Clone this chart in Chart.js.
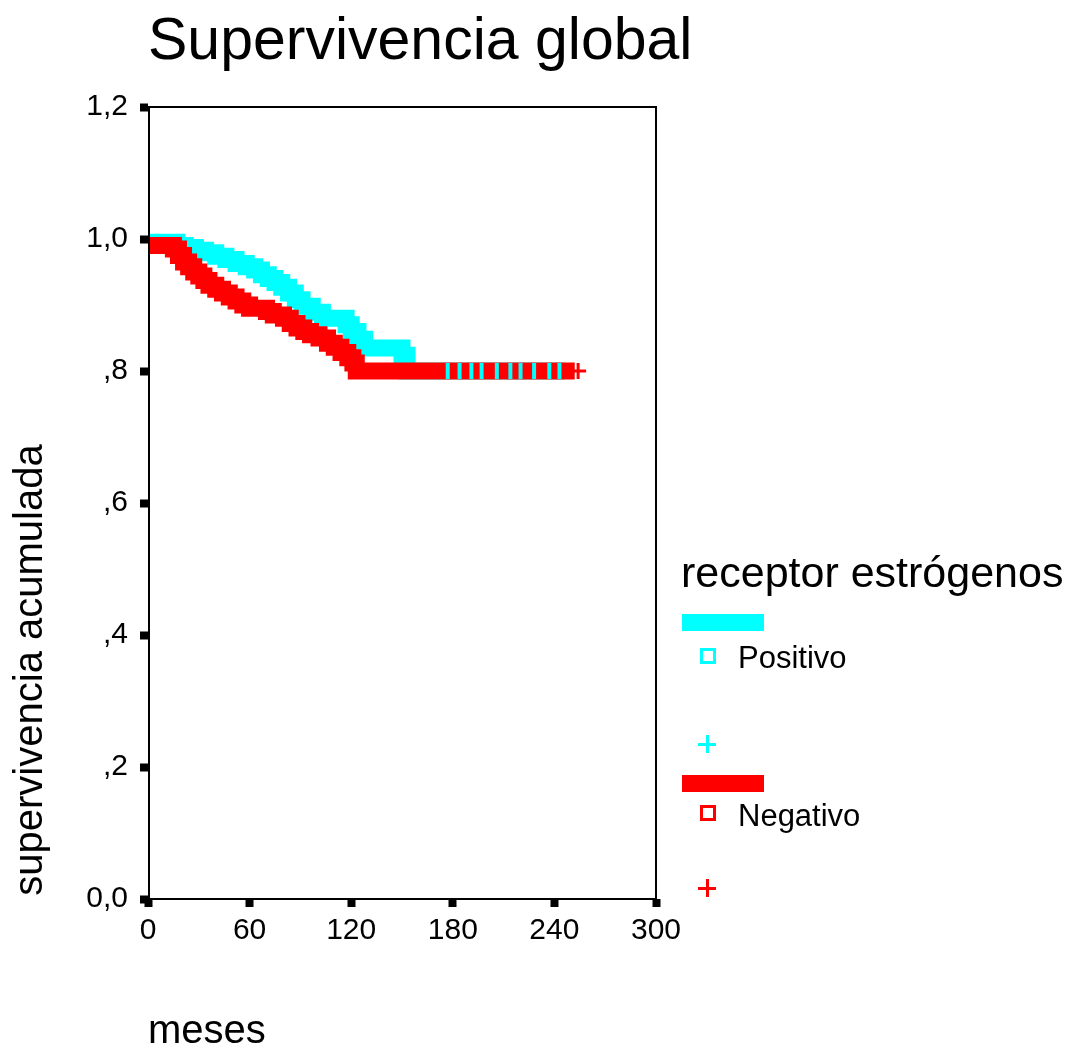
<!DOCTYPE html>
<html>
<head>
<meta charset="utf-8">
<script src="https://cdn.jsdelivr.net/npm/chart.js@4.4.1/dist/chart.umd.min.js"></script>
<style>
  body { margin: 0; background: #fff; }
  canvas { display: block; }
</style>
</head>
<body>
<canvas id="zeChart" width="1079" height="1050"></canvas>
<script>
// data (months, cumulative survival)
const posMonths = [0, 17, 22, 28, 34, 40, 46, 52, 58, 63, 67, 71, 75, 79, 83, 87, 91, 97, 103, 117, 120, 124, 128, 150, 153, 164, 246];
const posSurv   = [1.0, 0.995, 0.99, 0.987, 0.983, 0.979, 0.974, 0.969, 0.963, 0.958, 0.953, 0.946, 0.94, 0.934, 0.927, 0.918, 0.908, 0.898, 0.889, 0.88, 0.87, 0.86, 0.848, 0.835, 0.824, 0.80, 0.80];
const negMonths = [0, 15, 18, 21, 24, 27, 30, 33, 36, 40, 44, 48, 52, 56, 60, 70, 74, 80, 84, 88, 92, 96, 101, 106, 110, 114, 118, 121, 123, 126, 252];
const negSurv   = [1.0, 0.99, 0.985, 0.975, 0.965, 0.958, 0.95, 0.944, 0.937, 0.93, 0.924, 0.918, 0.912, 0.906, 0.90, 0.895, 0.89, 0.885, 0.88, 0.872, 0.865, 0.86, 0.855, 0.85, 0.842, 0.836, 0.828, 0.82, 0.812, 0.80, 0.80];
// censored cases (+)
const posCensored = [177, 184, 191, 197, 206, 214, 220, 228, 237, 243];
const posCensSurv = [0.80, 0.80, 0.80, 0.80, 0.80, 0.80, 0.80, 0.80, 0.80, 0.80];
const negCensored = [254];
const negCensSurv = [0.80];

const xTicks = [0, 60, 120, 180, 240, 300];
const yTickLabels = ['0,0', ',2', ',4', ',6', ',8', '1,0', '1,2'];

const groupLabels = ['Positivo', 'Negativo'];
const cyan = '#00ffff';
const red = '#ff0000';
const FONT = '"Liberation Sans", Arial, sans-serif';

function pts(xs, ys) {
    return xs.map(function (x, i) { return { x: x, y: ys[i] }; });
}

// title, axis titles, frame and legend drawn by hand
const decorPlugin = {
    id: 'decor',
    afterDatasetsDraw: function (chart) {
        const ctx = chart.ctx;
        const a = chart.chartArea;
        ctx.save();
        ctx.strokeStyle = '#000';
        ctx.lineWidth = 2;
        ctx.strokeRect(a.left + 1, a.top, a.right - a.left - 1, a.bottom - a.top);
        ctx.restore();
    },
    afterDraw: function (chart) {
        const ctx = chart.ctx;
        ctx.save();
        ctx.fillStyle = '#000';
        ctx.textAlign = 'left';
        ctx.textBaseline = 'alphabetic';

        ctx.font = '59px ' + FONT;
        ctx.fillText('Supervivencia global', 148, 59);

        ctx.font = '40px ' + FONT;
        ctx.fillText('meses', 148, 1043);

        ctx.save();
        ctx.translate(42, 670);
        ctx.rotate(-Math.PI / 2);
        ctx.textAlign = 'center';
        ctx.fillText('supervivencia acumulada', 0, 0);
        ctx.restore();

        // legend
        ctx.font = '43px ' + FONT;
        ctx.fillText('receptor estrógenos', 681, 587);

        const rows = [
            { color: cyan, label: groupLabels[0], bar: 614, sq: 656, txt: 668, cross: 744 },
            { color: red, label: groupLabels[1], bar: 775, sq: 813, txt: 826, cross: 888 }
        ];
        rows.forEach(function (r) {
            ctx.fillStyle = r.color;
            ctx.fillRect(682, r.bar, 82, 17);
            ctx.strokeStyle = r.color;
            ctx.lineWidth = 3;
            ctx.strokeRect(701.5, r.sq - 6.5, 13, 13);
            ctx.beginPath();
            ctx.moveTo(698, r.cross + 0.5);
            ctx.lineTo(716, r.cross + 0.5);
            ctx.moveTo(707.5, r.cross - 9);
            ctx.lineTo(707.5, r.cross + 9);
            ctx.stroke();
            ctx.fillStyle = '#000';
            ctx.font = '31px ' + FONT;
            ctx.fillText(r.label, 738, r.txt);
        });
        ctx.restore();
    }
};

const config = {
    type: 'line',
    data: {
        datasets: [
            {
                label: groupLabels[0] + ' censurado',
                type: 'scatter',
                data: pts(posCensored, posCensSurv),
                pointStyle: 'line',
                rotation: 90,
                pointRadius: 8,
                pointBorderWidth: 4,
                borderColor: cyan,
                backgroundColor: cyan,
                order: 0
            },
            {
                label: groupLabels[1] + ' censurado',
                type: 'scatter',
                data: pts(negCensored, negCensSurv),
                pointStyle: 'cross',
                pointRadius: 8,
                pointBorderWidth: 3,
                borderColor: red,
                backgroundColor: red,
                order: 1
            },
            {
                label: groupLabels[1],
                data: pts(negMonths, negSurv),
                stepped: 'after',
                borderColor: red,
                borderWidth: 17,
                borderJoinStyle: 'miter',
                pointRadius: 0,
                fill: false,
                clip: 0,
                order: 2
            },
            {
                label: groupLabels[0],
                data: pts(posMonths, posSurv),
                stepped: 'after',
                borderColor: cyan,
                borderWidth: 17,
                borderJoinStyle: 'miter',
                pointRadius: 0,
                fill: false,
                clip: 0,
                order: 3
            }
        ]
    },
    options: {
        responsive: false,
        devicePixelRatio: 1,
        animation: false,
        layout: { padding: { top: 107, right: 423, left: 0, bottom: 0 } },
        plugins: {
            legend: { display: false },
            title: { display: false },
            tooltip: { enabled: false }
        },
        scales: {
            x: {
                type: 'linear',
                min: 0,
                max: 300,
                afterFit: function (s) { s.height = 151; },
                afterBuildTicks: function (s) { s.ticks = xTicks.map(function (v) { return { value: v }; }); },
                border: { display: false },
                grid: { drawOnChartArea: false, tickLength: 8, tickWidth: 8, tickColor: '#000' },
                ticks: { color: '#000', padding: 6, maxRotation: 0, font: { family: FONT, size: 30 } }
            },
            y: {
                min: 0,
                max: 1.2,
                afterFit: function (s) { s.width = 148; },
                border: { display: false },
                grid: { drawOnChartArea: false, tickLength: 8, tickWidth: 8, tickColor: '#000' },
                ticks: {
                    stepSize: 0.2,
                    color: '#000',
                    padding: 12,
                    font: { family: FONT, size: 30 },
                    callback: function (v, i) { return yTickLabels[i]; }
                }
            }
        }
    },
    plugins: [decorPlugin]
};

let zeChart = new Chart(document.getElementById('zeChart'), config);
</script>
</body>
</html>
